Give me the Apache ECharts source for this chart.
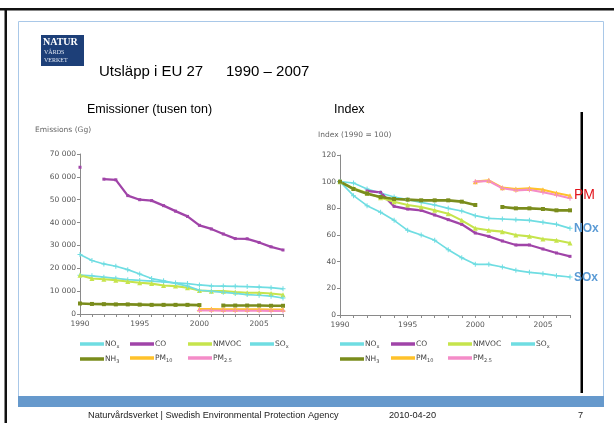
<!DOCTYPE html>
<html>
<head>
<meta charset="utf-8">
<script src="https://cdn.jsdelivr.net/npm/echarts@6/dist/echarts.min.js"></script>
<style>
html,body{margin:0;padding:0;background:#fff;}
#main{width:614px;height:423px;}
</style>
</head>
<body>
<div id="main"></div>
<script>
// Years on both horizontal axes
const years = ['1990','1991','1992','1993','1994','1995','1996','1997','1998','1999',
               '2000','2001','2002','2003','2004','2005','2006','2007'];

// Emissions, Gg (thousand tonnes)
const emisNOx   = [17000,16700,16100,15600,15000,14700,14400,14000,13600,13300,12700,12300,12200,12100,12000,11800,11500,11000];
const emisCO    = [64200,null,59000,58700,51800,50000,49600,47400,45000,42700,38800,37200,35000,33000,32900,31300,29400,28000];
const emisNMVOC = [17000,15500,15200,14800,14200,13700,13300,12500,12200,11500,10300,10000,10000,9600,9300,9300,9000,8400];
const emisSOx   = [26000,23400,21900,20900,19400,17500,15500,14500,13400,12200,10400,10000,9500,9000,8500,8200,7800,7000];
const emisNH3   = [4600,4400,4300,4200,4200,4100,4000,4000,4000,4000,3900,null,3700,3700,3700,3700,3600,3600];
const emisPM10  = [null,null,null,null,null,null,null,null,null,null,2200,2200,2100,2100,2100,2050,2000,1950];
const emisPM25  = [null,null,null,null,null,null,null,null,null,null,1500,1500,1450,1400,1400,1400,1350,1300];

// Index, 1990 = 100
const idxNOx   = [100,99,94.5,91.5,88.5,86.5,84.5,82.5,80,78,74.5,72.5,72,71.5,71,69.5,68,65];
const idxCO    = [100,null,93,92,81.5,79.5,78.5,75,71.5,68,61.5,59,55.5,52.5,52.5,49.5,46.5,44];
const idxNMVOC = [100,95,91.5,88,85,82.5,81,78.5,76,71,65,63.5,62.5,60,59,57,56,54];
const idxSOx   = [100,89.5,82,77,71,63.5,60,56,49,43,38,38,36,33.5,32,31,29.5,28.5];
const idxNH3   = [100,94.5,91,88.5,87,86.5,86,86,86,85,82.5,null,81,80,80,79.5,78.5,78.5];
const idxPM10  = [null,null,null,null,null,null,null,null,null,null,100,101,95.5,94.5,95,94,91.5,89.5];
const idxPM25  = [null,null,null,null,null,null,null,null,null,null,100,100.5,95,93.5,94,92,90,87.5];

// Tick values for the two vertical axes
const emisTicks  = [0,10000,20000,30000,40000,50000,60000,70000];
const indexTicks = [0,20,40,60,80,100,120];

// Legend names in column order (two rows)
const legendCols = [['NOx','NH3'],['CO','PM10'],['NMVOC','PM2.5'],['SOx']];

const plus = 'path://M4 0h2v4h4v2h-4v4h-2v-4h-4v-2h4z';
const styles = {
  'NOx':   {color:'#6fdde2', width:1.7, symbol:plus, size:5},
  'CO':    {color:'#a044a8', width:2.3, symbol:'rect', size:3},
  'NMVOC': {color:'#c6e44c', width:2.1, symbol:'triangle', size:5},
  'SOx':   {color:'#6fdde2', width:1.7, symbol:plus, size:5},
  'NH3':   {color:'#7a8c1c', width:2.6, symbol:'rect', size:4},
  'PM10':  {color:'#ffc22a', width:2.1, symbol:'triangle', size:5},
  'PM2.5': {color:'#f48cc8', width:2.1, symbol:plus, size:5}
};

function mkSeries(name, data, gi){
  const s = styles[name];
  return {
    type:'line', name:name, data:data, xAxisIndex:gi, yAxisIndex:gi,
    symbol:s.symbol, symbolSize:s.size, showSymbol:true,
    lineStyle:{color:s.color, width:s.width},
    itemStyle:{color:s.color},
    connectNulls:false, animation:false, silent:true,
    emphasis:{disabled:true}
  };
}

const fmtThousands = v => String(v).replace(/\B(?=(\d{3})+(?!\d))/g,' ');

const axisGrey = '#8a8a8a';
const labelGrey = '#555';
const chartFont = 'DejaVu Sans';

function xAxis(gi){
  return {
    type:'category', gridIndex:gi, data:years, boundaryGap:false,
    axisLine:{lineStyle:{color:axisGrey,width:1}},
    axisTick:{show:true, interval:0, length:3, lineStyle:{color:axisGrey}},
    axisLabel:{interval:4, color:labelGrey, fontSize:7.5, fontFamily:chartFont, margin:6},
    splitLine:{show:false}
  };
}
function yAxis(gi, ticks, fmt){
  return {
    type:'value', gridIndex:gi, min:ticks[0], max:ticks[ticks.length-1],
    interval:ticks[1]-ticks[0],
    axisLine:{show:true, lineStyle:{color:axisGrey,width:1}},
    axisTick:{show:true, length:3, lineStyle:{color:axisGrey}},
    axisLabel:{color:labelGrey, fontSize:7.5, fontFamily:chartFont, margin:4, formatter:fmt},
    splitLine:{show:false}
  };
}

const richName = {
  'NOx':'{a|NO}{b|x}', 'CO':'{a|CO}', 'NMVOC':'{a|NMVOC}', 'SOx':'{a|SO}{b|x}',
  'NH3':'{a|NH}{b|3}', 'PM10':'{a|PM}{b|10}', 'PM2.5':'{a|PM}{b|2.5}'
};
const legendRich = {
  a:{fontSize:7.5, fontFamily:chartFont, color:'#444', lineHeight:10},
  b:{fontSize:5, fontFamily:chartFont, color:'#444', lineHeight:10, verticalAlign:'bottom', padding:[4,0,0,0]}
};

function legends(colXs, top){
  return legendCols.map((names, i) => ({
    orient:'vertical', left:colXs[i], top:top, data:names,
    icon:'rect', itemWidth:24, itemHeight:3.5, itemGap:6,
    selectedMode:false, padding:0,
    formatter: n => richName[n],
    textStyle:{rich:legendRich, padding:[0,0,0,-4]}
  }));
}

const chart = echarts.init(document.getElementById('main'), null, {renderer:'canvas'});

const option = {
  backgroundColor:'#ffffff',
  animation:false,
  grid:[
    {left:80, top:154, width:203, height:160, containLabel:false},
    {left:340, top:155, width:230, height:160, containLabel:false}
  ],
  xAxis:[xAxis(0), xAxis(1)],
  yAxis:[
    yAxis(0, emisTicks, v => fmtThousands(v)),
    yAxis(1, indexTicks, v => String(v))
  ],
  legend:[
    ...legends([80,130,188,250], 340),
    ...legends([340,391,448,511], 340)
  ],
  series:[
    mkSeries('NOx',   emisNOx,   0),
    mkSeries('CO',    emisCO,    0),
    mkSeries('NMVOC', emisNMVOC, 0),
    mkSeries('SOx',   emisSOx,   0),
    mkSeries('NH3',   emisNH3,   0),
    mkSeries('PM10',  emisPM10,  0),
    mkSeries('PM2.5', emisPM25,  0),
    mkSeries('NOx',   idxNOx,    1),
    mkSeries('CO',    idxCO,     1),
    mkSeries('NMVOC', idxNMVOC,  1),
    mkSeries('SOx',   idxSOx,    1),
    mkSeries('NH3',   idxNH3,    1),
    mkSeries('PM10',  idxPM10,   1),
    mkSeries('PM2.5', idxPM25,   1)
  ],
  graphic:[
    // slide frame
    {type:'rect', shape:{x:0, y:8, width:614, height:2.5}, style:{fill:'#111'}, silent:true},
    {type:'rect', shape:{x:4.5, y:8, width:2.5, height:415}, style:{fill:'#111'}, silent:true},
    {type:'rect', shape:{x:18.5, y:21.5, width:585, height:375}, style:{fill:'none', stroke:'#a9c8e8', lineWidth:1}, silent:true},
    {type:'rect', shape:{x:18, y:396, width:586, height:11}, style:{fill:'#6699cc'}, silent:true},
    // logo
    {type:'rect', shape:{x:41, y:35, width:43, height:31}, style:{fill:'#1d3f78'}, silent:true},
    {type:'text', left:43, top:37, style:{text:'NATUR', fill:'#fff', font:'bold 10px "Liberation Serif"'}, silent:true},
    {type:'text', left:44, top:49, style:{text:'VÅRDS', fill:'#dfe6f2', font:'6px "Liberation Serif"'}, silent:true},
    {type:'text', left:44, top:57, style:{text:'VERKET', fill:'#dfe6f2', font:'6px "Liberation Serif"'}, silent:true},
    // slide title
    {type:'text', left:99, top:64, style:{text:'Utsläpp i EU 27', fill:'#000', font:'15px "Liberation Sans"'}, silent:true},
    {type:'text', left:226, top:64, style:{text:'1990 – 2007', fill:'#000', font:'15px "Liberation Sans"'}, silent:true},
    // panel headings
    {type:'text', left:87, top:103, style:{text:'Emissioner (tusen ton)', fill:'#000', font:'12.5px "Liberation Sans"'}, silent:true},
    {type:'text', left:334, top:103, style:{text:'Index', fill:'#000', font:'12.5px "Liberation Sans"'}, silent:true},
    {type:'text', left:35, top:126, style:{text:'Emissions (Gg)', fill:'#666', font:'7.5px "DejaVu Sans"'}, silent:true},
    {type:'text', left:318, top:131, style:{text:'Index (1990 = 100)', fill:'#666', font:'7.5px "DejaVu Sans"'}, silent:true},
    // right-hand marker bar and pollutant labels
    {type:'rect', shape:{x:580.5, y:112, width:2.5, height:281}, style:{fill:'#000'}, silent:true},
    {type:'text', left:574, top:188, style:{text:'PM', fill:'#e3141c', font:'14px "Liberation Sans"'}, silent:true},
    {type:'text', left:574, top:223, style:{text:'NOx', fill:'#5b9bd5', font:'bold 12px "Liberation Sans"'}, silent:true},
    {type:'text', left:574, top:272, style:{text:'SOx', fill:'#5b9bd5', font:'bold 12px "Liberation Sans"'}, silent:true},
    // footer
    {type:'text', left:88, top:411, style:{text:'Naturvårdsverket | Swedish Environmental Protection Agency', fill:'#222', font:'9.2px "Liberation Sans"'}, silent:true},
    {type:'text', left:389, top:411, style:{text:'2010-04-20', fill:'#222', font:'9.2px "Liberation Sans"'}, silent:true},
    {type:'text', left:578, top:411, style:{text:'7', fill:'#222', font:'9.2px "Liberation Sans"'}, silent:true}
  ]
};

chart.setOption(option);
</script>
</body>
</html>
